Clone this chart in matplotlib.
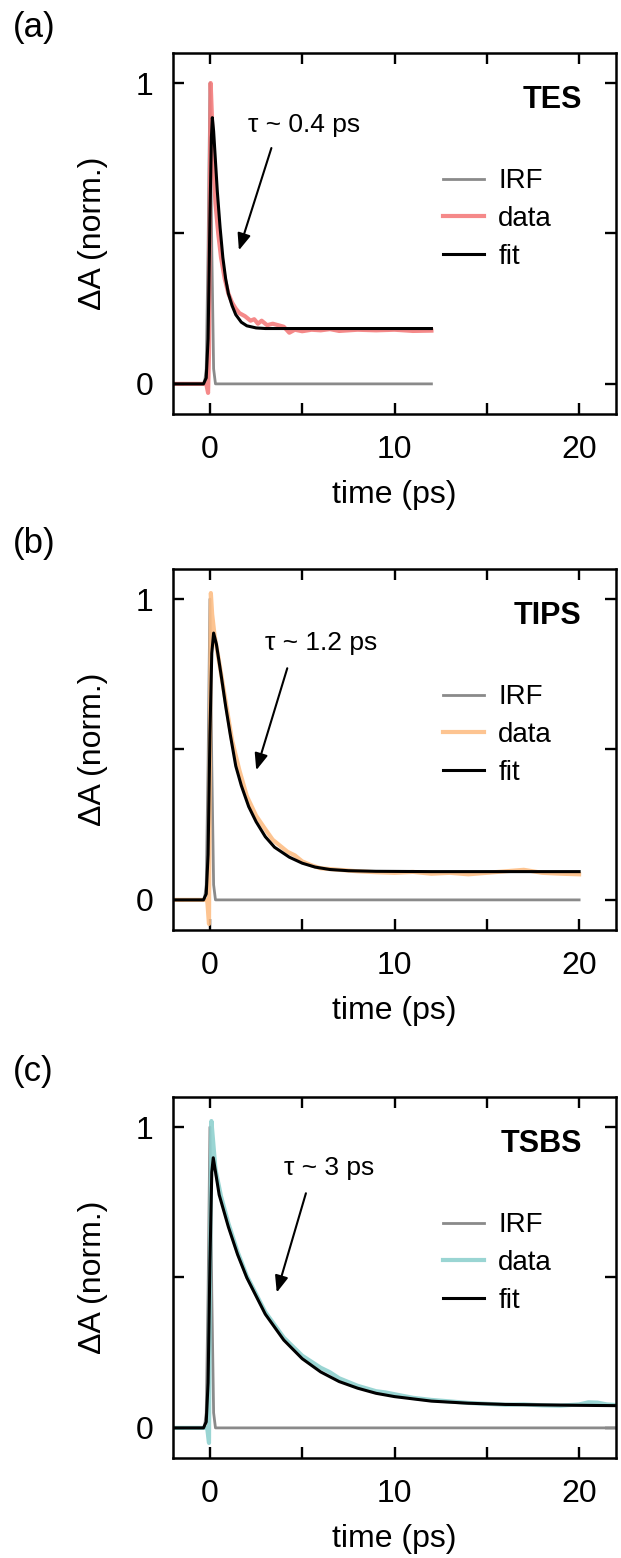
import numpy as np
import matplotlib
matplotlib.use("Agg")
import matplotlib.pyplot as plt
from matplotlib.ticker import FixedLocator

plt.rcParams['font.family'] = ['Liberation Sans', 'DejaVu Sans']

# ---- panel (a) TES ----
irf_t_a = [-2, -0.3, -0.2, -0.1, 0.0, 0.1, 0.2, 0.3, 12]
irf_y_a = [0, 0, 0.05, 0.45, 1.0, 0.45, 0.05, 0, 0]

data_t_a = [-2, -0.4, -0.2, -0.1, -0.05, 0.0, 0.04, 0.1, 0.2, 0.3, 0.45, 0.6, 0.8, 1.0, 1.2,
            1.4, 1.6, 1.9, 2.2, 2.4, 2.6, 2.8, 3.1, 3.4, 3.7, 4.0, 4.3, 4.6, 5.0, 5.5,
            6, 6.5, 7, 8, 9, 10, 11, 12]
data_y_a = [0, 0, 0, -0.03, 0.1, 0.7, 1.0, 0.9, 0.72, 0.6, 0.5, 0.42, 0.35, 0.3, 0.27,
            0.25, 0.235, 0.225, 0.21, 0.215, 0.2, 0.21, 0.195, 0.2, 0.195, 0.19, 0.17, 0.18, 0.175, 0.18,
            0.178, 0.182, 0.176, 0.18, 0.178, 0.18, 0.176, 0.177]

fit_t_a = [-2, -0.35, -0.2, -0.1, 0, 0.08, 0.13, 0.2, 0.3, 0.4, 0.55, 0.7, 0.85, 1.0, 1.2,
           1.4, 1.7, 2.0, 2.5, 3.0, 5, 12]
fit_y_a = [0, 0, 0.02, 0.15, 0.55, 0.82, 0.885, 0.84, 0.74, 0.64, 0.52, 0.42, 0.35, 0.30, 0.26,
           0.23, 0.205, 0.193, 0.186, 0.184, 0.184, 0.184]

# ---- panel (b) TIPS ----
irf_t_b = [-2, -0.3, -0.2, -0.1, 0.0, 0.1, 0.2, 0.3, 20]
irf_y_b = [0, 0, 0.05, 0.45, 1.0, 0.45, 0.05, 0, 0]

data_t_b = [-2, -0.4, -0.15, -0.05, 0.0, 0.05, 0.12, 0.25, 0.5, 0.85, 1.2, 1.6, 2.0, 2.5, 3.0,
            3.4, 3.8, 4.2, 4.6, 5.0, 5.5, 6, 7, 8, 9, 10, 11, 12, 13, 14, 15, 16, 17, 18, 19, 20]
data_y_b = [0, 0, 0.0, -0.08, 0.5, 1.02, 0.95, 0.88, 0.79, 0.66, 0.53, 0.43, 0.345, 0.28, 0.235,
            0.2, 0.18, 0.16, 0.148, 0.128, 0.115, 0.105, 0.1, 0.095, 0.092, 0.09, 0.093, 0.087, 0.09,
            0.085, 0.09, 0.095, 0.1, 0.09, 0.087, 0.085]

fit_t_b = [-2, -0.35, -0.2, -0.1, 0, 0.1, 0.2, 0.35, 0.6, 0.85, 1.1, 1.4, 1.7, 2.1, 2.5,
           3.0, 3.5, 4.3, 5.0, 5.7, 6.5, 7.5, 9, 12, 20]
fit_y_b = [0, 0, 0.02, 0.15, 0.55, 0.82, 0.887, 0.85, 0.75, 0.645, 0.55, 0.445, 0.38, 0.31, 0.26,
           0.21, 0.175, 0.142, 0.122, 0.109, 0.101, 0.097, 0.095, 0.094, 0.094]

# ---- panel (c) TSBS ----
irf_t_c = [-2, -0.3, -0.2, -0.1, 0.0, 0.1, 0.2, 0.3, 22]
irf_y_c = [0, 0, 0.05, 0.45, 1.0, 0.45, 0.05, 0, 0]

data_t_c = [-2, -0.4, -0.15, -0.05, 0.0, 0.08, 0.15, 0.3, 0.6, 1.0, 1.5, 2.0, 3.0, 4.0, 5.0,
            5.5, 6.0, 6.5, 7.0, 8.0, 9.0, 9.5, 10, 11, 12, 13, 14, 15, 16, 17, 18, 19, 20,
            20.5, 21, 21.5, 22]
data_y_c = [0, 0, 0.0, -0.05, 0.5, 1.02, 0.97, 0.86, 0.77, 0.68, 0.585, 0.505, 0.385, 0.30, 0.24,
            0.22, 0.2, 0.185, 0.165, 0.14, 0.122, 0.118, 0.112, 0.1, 0.093, 0.088, 0.083, 0.08,
            0.077, 0.078, 0.075, 0.074, 0.078, 0.085, 0.084, 0.078, 0.076]

fit_t_c = [-2, -0.35, -0.2, -0.1, 0, 0.1, 0.18, 0.5, 1.0, 1.5, 2.0, 3.0, 4.0, 5.0, 6.0,
           7.0, 8.0, 9.0, 10, 12, 14, 16, 18, 20, 22]
fit_y_c = [0, 0, 0.02, 0.15, 0.55, 0.85, 0.898, 0.775, 0.668, 0.576, 0.499, 0.378, 0.292, 0.23,
           0.186, 0.154, 0.132, 0.115, 0.104, 0.089, 0.082, 0.078, 0.0765, 0.075, 0.074]

panels = [
    dict(tag='(a)', name='TES', tau=r'τ ~ 0.4 ps', col='#F47C7C',
         irf=(irf_t_a, irf_y_a), data=(data_t_a, data_y_a), fit=(fit_t_a, fit_y_a),
         txt=(5.1, 0.86), tail=(3.33, 0.784), tip=(1.57, 0.444)),
    dict(tag='(b)', name='TIPS', tau=r'τ ~ 1.2 ps', col='#FDBE85',
         irf=(irf_t_b, irf_y_b), data=(data_t_b, data_y_b), fit=(fit_t_b, fit_y_b),
         txt=(6.0, 0.853), tail=(4.19, 0.77), tip=(2.51, 0.431)),
    dict(tag='(c)', name='TSBS', tau=r'τ ~ 3 ps', col='#8FD1CF',
         irf=(irf_t_c, irf_y_c), data=(data_t_c, data_y_c), fit=(fit_t_c, fit_y_c),
         txt=(6.45, 0.864), tail=(5.2, 0.78), tip=(3.62, 0.45)),
]

fig = plt.figure(figsize=(6.21, 15.58), dpi=100)
bottoms = [0.7343, 0.4031, 0.0642]
tag_y = [28, 544, 1072]

for p, b, ty in zip(panels, bottoms, tag_y):
    ax = fig.add_axes([0.2786, b, 0.7134, 0.2317])
    ax.plot(*p['irf'], color='#8A8A8A', lw=2.0, label='IRF')
    ax.plot(*p['data'], color=p['col'], lw=3.0, alpha=0.9, label='data')
    ax.plot(*p['fit'], color='black', lw=2.2, label='fit')

    ax.set_xlim(-2, 22)
    ax.set_ylim(-0.1, 1.1)
    ax.xaxis.set_major_locator(FixedLocator([0, 10, 20]))
    ax.xaxis.set_minor_locator(FixedLocator([5, 15]))
    ax.yaxis.set_major_locator(FixedLocator([0, 1]))
    ax.yaxis.set_minor_locator(FixedLocator([0.5]))
    ax.tick_params(which='both', direction='in', top=True, right=True,
                   length=8, width=1.7, labelsize=23)
    ax.tick_params(axis='x', pad=15)
    ax.tick_params(axis='y', pad=14)
    for s in ax.spines.values():
        s.set_linewidth(1.8)

    ax.set_xlabel('time (ps)', fontsize=23, labelpad=11)
    ax.set_ylabel('ΔA (norm.)', fontsize=23, labelpad=20)

    ax.text(0.9226, 0.869, p['name'], transform=ax.transAxes, ha='right', va='center',
            fontsize=22, fontweight='bold')
    ax.text(p['txt'][0], p['txt'][1], p['tau'], ha='center', va='center', fontsize=19)
    ax.annotate('', xy=p['tip'], xytext=p['tail'],
                arrowprops=dict(arrowstyle='-|>,head_length=1.0,head_width=0.4',
                                color='black', lw=1.5, shrinkA=0, shrinkB=0))

    ax.legend(loc='center left', bbox_to_anchor=(0.609, 0.54), frameon=False,
              fontsize=20, handlelength=1.5, handletextpad=0.5, labelspacing=0.42,
              borderpad=0, borderaxespad=0)

    fig.text(13 / 621, 1 - ty / 1558, p['tag'], ha='left', va='center', fontsize=25)

fig.savefig('out.png', dpi=100)
